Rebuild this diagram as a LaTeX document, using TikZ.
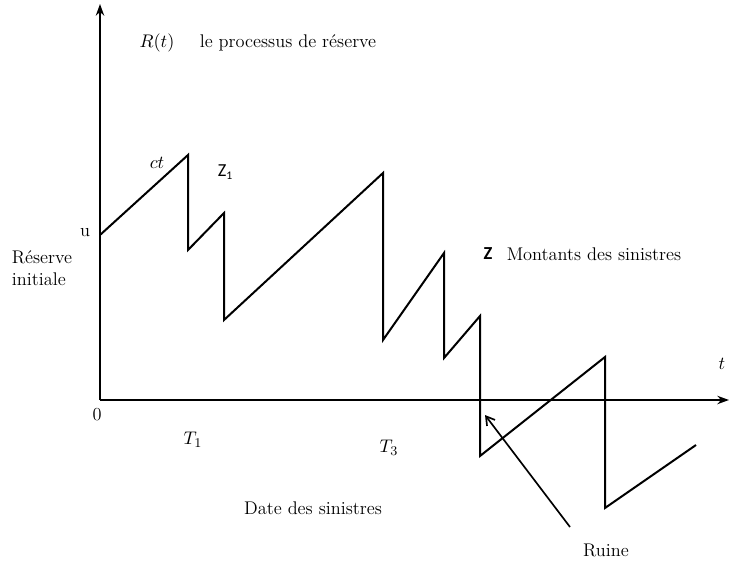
\documentclass[tikz,border=0pt]{standalone}
\usepackage{fontspec}
\newfontfamily\carlito{Carlito}
\usetikzlibrary{arrows.meta, positioning}
\tikzset{
  >=latex,  % frecce di default
  axis/.style={line width=1.2pt,-{Stealth[length=7pt,width=5pt]}},
  reserve/.style={line width=1.2pt,line join=miter},
  lbl/.style={inner sep=1pt,font=\fontsize{11}{13}\selectfont},
  ruine arrow/.style={line width=1pt,-{Straight Barb[length=5pt,width=6pt]}}
}
\begin{document}
\begin{tikzpicture}[x=0.6pt,y=-0.6pt]
    \useasboundingbox (0,0) rectangle (729,563);
    % assi
    \coordinate (O) at (100,400);
    \coordinate (ytop) at (100,4);
    \coordinate (xend) at (729,400);
    \draw[axis] (O) -- (ytop);
    \draw[axis] (O) -- (xend);
    % processo di riserva
    \draw[reserve] (100,235) -- (188,155) -- (188,250) -- (224,213)
      -- (224,320) -- (383,173) -- (383,340) -- (444,253) -- (444,358)
      -- (480,316) -- (480,456) -- (605,357) -- (605,508) -- (696,445);
    % etichette
    \node[lbl] (Rt) at (157,43) {$R(t)$};
    \node[lbl] (proc) at (288,43) {le processus de réserve};
    \node[lbl] (ct) at (157,163) {$ct$};
    \node[lbl] (Z1) at (225,172) {\carlito Z\raisebox{-0.3ex}{\scriptsize 1}};
    \node[lbl] (u) at (85,233) {u};
    \node[lbl,align=left] (init) at (42,268) {Réserve\\initiale};
    \node[lbl] (zero) at (97,415) {0};
    \node[lbl] (T1) at (193,440) {$T_1$};
    \node[lbl] (T3) at (389,448) {$T_3$};
    \node[lbl] (Z) at (488,254) {\carlito\bfseries Z};
    \node[lbl] (mont) at (594,254) {Montants des sinistres};
    \node[lbl] (date) at (313,508) {Date des sinistres};
    \node[lbl] (ruine) at (606,550) {Ruine};
    \node[lbl] (t) at (722,364) {$t$};
    % freccia della rovina
    \coordinate (ruinetail) at (570,527);
    \coordinate (ruinept) at (485,415);
    \draw[ruine arrow] (ruinetail) -- (ruinept);
  \end{tikzpicture}
\end{document}
